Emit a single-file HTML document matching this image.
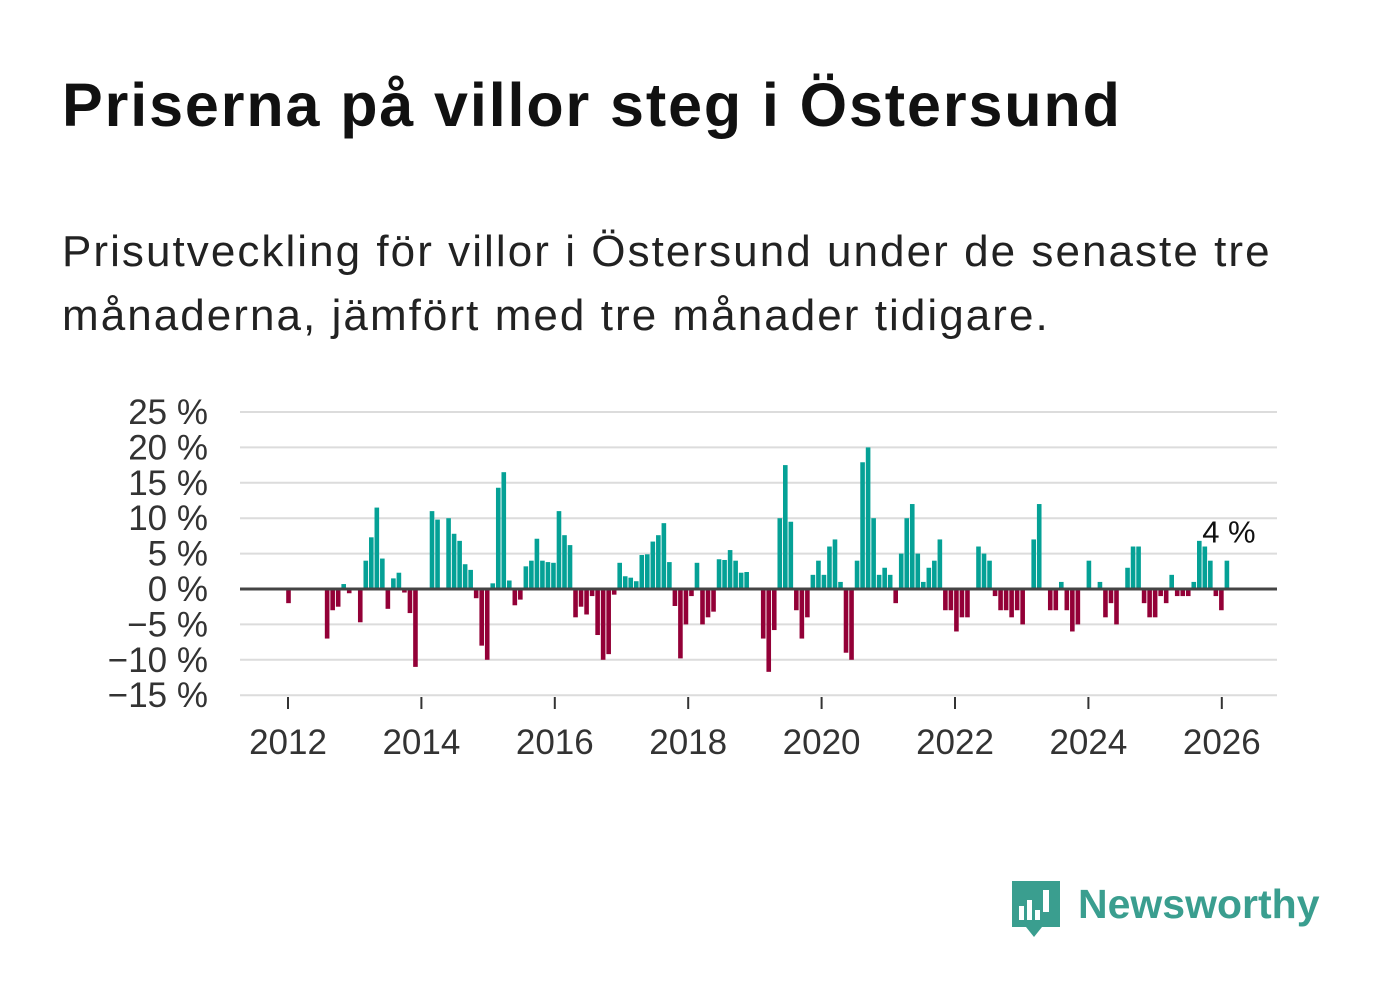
<!DOCTYPE html>
<html><head><meta charset="utf-8"><style>
body{margin:0;background:#fff;font-family:"Liberation Sans",sans-serif;}
#wrap{position:relative;width:1382px;height:999px;overflow:hidden;}
h1{position:absolute;left:62px;top:70px;margin:0;font-size:61px;font-weight:bold;color:#111;letter-spacing:1.9px;white-space:nowrap}
p{position:absolute;left:62px;top:220px;margin:0;font-size:44px;line-height:64px;color:#222;width:1300px;letter-spacing:2.05px;white-space:nowrap}
</style></head><body>
<div id="wrap">
<h1>Priserna på villor steg i Östersund</h1>
<p>Prisutveckling för villor i Östersund under de senaste tre<br>månaderna, jämfört med tre månader tidigare.</p>
<svg id="chart" width="1382" height="999" style="position:absolute;left:0;top:0"></svg>
</div>
<script>
const yTicks=[25,20,15,10,5,0,-5,-10,-15];
const yTickLabels=["25 %","20 %","15 %","10 %","5 %","0 %","−5 %","−10 %","−15 %"];
const xYears=[2012,2014,2016,2018,2020,2022,2024,2026];
// monthly change in %, index 0 = Jan 2012; null = no data
const values=[-2,null,null,null,null,null,null,-7,-3,-2.5,0.7,-0.6,null,-4.7,4,7.3,11.5,4.3,-2.8,1.5,2.3,-0.5,-3.4,-11,
null,null,11,9.8,null,10,7.8,6.8,3.5,2.7,-1.3,-8,-10,0.8,14.3,16.5,1.2,-2.3,-1.5,3.2,4,7.1,4,3.8,
3.7,11,7.6,6.2,-4,-2.5,-3.6,-1,-6.5,-10,-9.2,-0.8,3.7,1.8,1.6,1.1,4.8,4.9,6.7,7.6,9.3,3.8,-2.4,-9.8,
-5,-1,3.7,-5,-4,-3.2,4.2,4.1,5.5,4,2.3,2.4,null,null,-7,-11.7,-5.8,10,17.5,9.5,-3,-7,-4,2,
4,2,6,7,1,-9,-10,4,17.9,20,10,2,3,2,-2,5,10,12,5,1,3,4,7,-3,
-3,-6,-4,-4,null,6,5,4,-1,-3,-3,-4,-3,-5,null,7,12,null,-3,-3,1,-3,-6,-5,
null,4,null,1,-4,-2,-5,null,3,6,6,-2,-4,-4,-1,-2,2,-1,-1,-1,1,6.8,6,4,-1,-3,4];
const lastLabel="4 %";

const svg=document.getElementById('chart');
const NS='http://www.w3.org/2000/svg';
const X0=240,X1=1277;
function yScale(v){return 589-v*7.08;}
function xMonth(m){return 288.5+m*5.52;}
function xYear(y){return 288+(y-2012)*66.7;}
function mk(t,a){const e=document.createElementNS(NS,t);for(const k in a)e.setAttribute(k,a[k]);svg.appendChild(e);return e;}
yTicks.forEach((v,i)=>{
  if(v!==0){const l=mk('line',{x1:X0,x2:X1,y1:yScale(v),y2:yScale(v),stroke:'#dcdcdc','stroke-width':2});
  
  }
  const t=mk('text',{x:208,y:yScale(v)+12,'text-anchor':'end','font-size':35,fill:'#333','font-family':'Liberation Sans, sans-serif'});
  t.textContent=yTickLabels[i];
  
  
});
values.forEach((v,m)=>{
  if(v===null)return;
  const y=yScale(Math.max(v,0)),h=Math.abs(v)*7.08;
  const r=mk('rect',{x:xMonth(m)-2.3,y:y,width:4.6,height:h,fill:v>=0?'#05a196':'#930037'});
  
  
});
const z=mk('line',{x1:X0,x2:X1,y1:589,y2:589,stroke:'#444','stroke-width':3});


xYears.forEach(yr=>{
  const tk=mk('line',{x1:xYear(yr),x2:xYear(yr),y1:697,y2:709,stroke:'#333','stroke-width':2});
  
  
  const t=mk('text',{x:xYear(yr),y:754,'text-anchor':'middle','font-size':35,fill:'#333','font-family':'Liberation Sans, sans-serif'});
  t.textContent=yr;
  
  
});
const lastM=values.length-1;
const lt=mk('text',{x:xMonth(lastM)+2,y:yScale(values[lastM])-18,'text-anchor':'middle','font-size':31,fill:'#111','font-family':'Liberation Sans, sans-serif'});
lt.textContent=lastLabel;


// logo
const g=mk('g',{});


const bg=document.createElementNS(NS,'path');
bg.setAttribute('d','M1012 881h48v46h-18l-8 10-8-10h-14z');bg.setAttribute('fill','#3a9e8f');g.appendChild(bg);
[[1019,906,5,14],[1027,900,5,20],[1035,910,5,10],[1043,890,6,22]].forEach(b=>{const r=document.createElementNS(NS,'rect');r.setAttribute('x',b[0]);r.setAttribute('y',b[1]);r.setAttribute('width',b[2]);r.setAttribute('height',b[3]);r.setAttribute('fill','#fff');g.appendChild(r);});
const lg=document.createElementNS(NS,'text');
lg.setAttribute('x',1078);lg.setAttribute('y',918);lg.setAttribute('font-size',41);lg.setAttribute('font-weight','bold');lg.setAttribute('fill','#3a9e8f');lg.setAttribute('font-family','Liberation Sans, sans-serif');
lg.textContent='Newsworthy';g.appendChild(lg);
</script>
</body></html>
